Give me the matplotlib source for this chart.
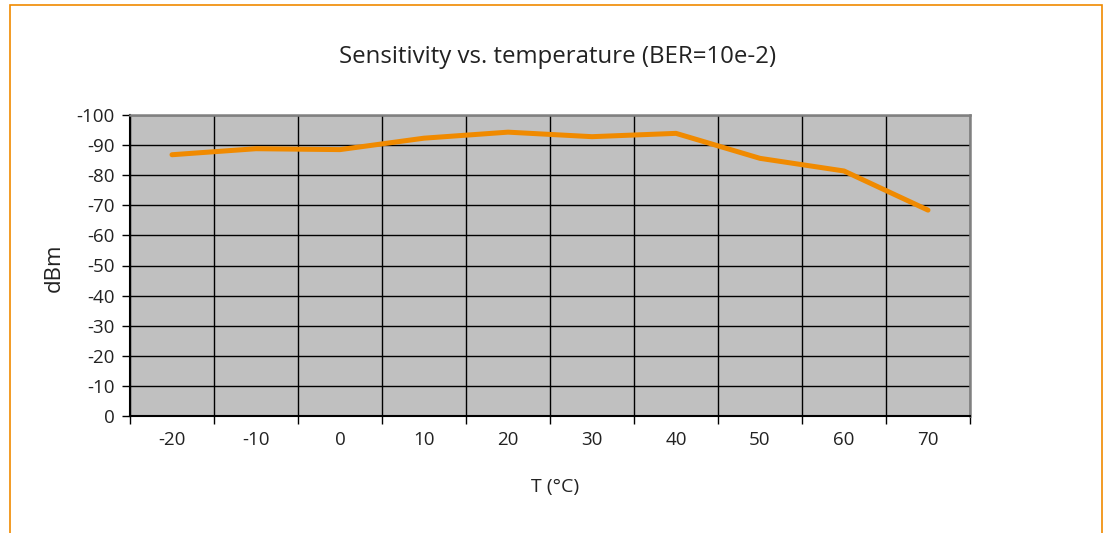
import matplotlib
matplotlib.use("Agg")
import matplotlib.pyplot as plt
from matplotlib.patches import Rectangle
from matplotlib.ticker import FixedLocator, NullFormatter, FixedFormatter

temps = ["-20", "-10", "0", "10", "20", "30", "40", "50", "60", "70"]
sensitivity = [-86.8, -88.8, -88.5, -92.3, -94.3, -92.8, -93.9, -85.6, -81.4, -68.4]
yticks = [0, -10, -20, -30, -40, -50, -60, -70, -80, -90, -100]

plt.rcParams['font.family'] = ['Open Sans', 'DejaVu Sans']

fig = plt.figure(figsize=(11.04, 5.33), dpi=100)
fig.patch.set_facecolor('white')

# orange frame
fig.patches.append(Rectangle((9.5/1104, -0.05), (1101.5-9.5)/1104, 1 - 5/533 + 0.05,
                             transform=fig.transFigure, fill=False,
                             edgecolor='#F08A00', linewidth=1.2))

ax = fig.add_axes([130/1104, 1-416/533, 840/1104, 301/533])
ax.set_facecolor('#C0C0C0')

x = list(range(len(temps)))
ax.plot(x, sensitivity, color='#F08A00', linewidth=3.6, solid_capstyle='round', zorder=3)

ax.set_xlim(-0.5, len(temps) - 0.5)
ax.set_ylim(0, -100)

ax.yaxis.set_major_locator(FixedLocator(yticks))
ax.set_yticklabels([str(v) for v in yticks])
ax.xaxis.set_major_locator(FixedLocator([i - 0.5 for i in range(len(temps) + 1)]))
ax.xaxis.set_major_formatter(NullFormatter())
ax.xaxis.set_minor_locator(FixedLocator(x))
ax.xaxis.set_minor_formatter(FixedFormatter(temps))

ax.tick_params(axis='x', which='major', direction='out', length=6, width=1, color='black')
ax.tick_params(axis='x', which='minor', length=0, pad=11, labelsize=13.5, labelcolor='#222222')
ax.tick_params(axis='y', which='major', direction='out', length=6, width=1, color='black',
               labelsize=13.5, labelcolor='#222222', pad=5)

ax.grid(True, which='major', axis='both', color='black', linewidth=1.0, zorder=1)
ax.set_axisbelow(True)

for s in ['top', 'right']:
    ax.spines[s].set_color('#808080')
    ax.spines[s].set_linewidth(1.8)
for s in ['left', 'bottom']:
    ax.spines[s].set_color('black')
    ax.spines[s].set_linewidth(1.5)

fig.text(558/1104, 1-57/533, "Sensitivity vs. temperature (BER=10e-2)",
         ha='center', va='center', fontsize=17.3, color='#222222')
fig.text(555/1104, 1-487/533, "T (°C)", ha='center', va='center', fontsize=14, color='#222222')
fig.text(54/1104, 1-268/533, "dBm", ha='center', va='center', rotation=90, fontsize=16, color='#222222')

fig.savefig("out.png", dpi=100)
